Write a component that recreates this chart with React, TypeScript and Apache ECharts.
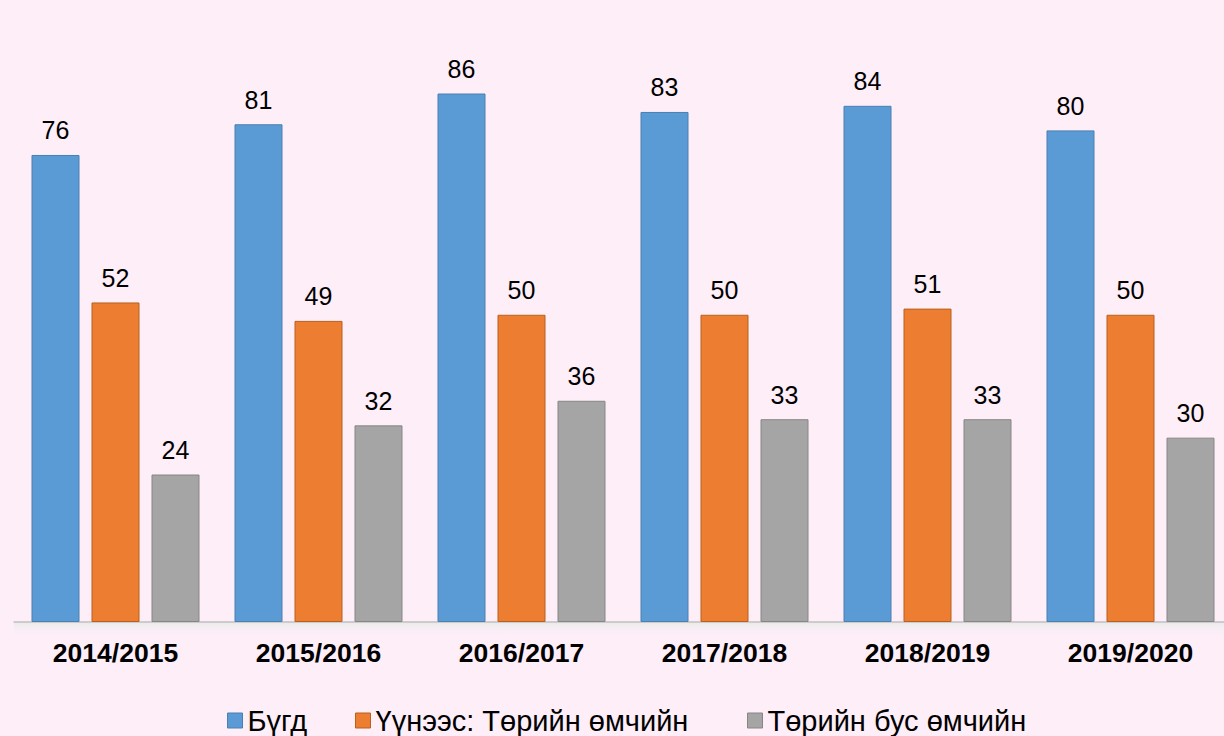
import React, { useEffect, useRef } from "react";
import * as echarts from "echarts";

const categories = ["2014/2015", "2015/2016", "2016/2017", "2017/2018", "2018/2019", "2019/2020"];
const seriesNames = ["Бүгд", "Үүнээс: Төрийн өмчийн", "Төрийн бус өмчийн"];
const totalValues = [76, 81, 86, 83, 84, 80];
const stateValues = [52, 49, 50, 50, 51, 50];
const nonStateValues = [24, 32, 36, 33, 33, 30];

const colors = ["#5B9BD5", "#ED7D31", "#A5A5A5"];
const borders = ["#4A7FB0", "#B8611F", "#868686"];
const legendLefts = [227, 355, 747];

const FONT = "Liberation Sans, Arial, sans-serif";

export default function App() {
  const ref = useRef<HTMLDivElement>(null);
  useEffect(() => {
    if (!ref.current) return;
    const chart = echarts.init(ref.current, null, { renderer: "svg" });
    const data = [totalValues, stateValues, nonStateValues];
    chart.setOption({
      animation: false,
      backgroundColor: "#FDEEF8",
      textStyle: { fontFamily: FONT },
      graphic: [
        {
          type: "rect",
          silent: true,
          z: -1,
          shape: { x: 14, y: 623, width: 1230, height: 13 },
          style: {
            fill: new echarts.graphic.LinearGradient(0, 0, 0, 1, [
              { offset: 0, color: "#ebebeb" },
              { offset: 1, color: "rgba(253,238,248,0)" },
            ]),
          },
        },
      ],
      grid: { left: 14, top: 7.5, width: 1218, height: 614.5, containLabel: false },
      legend: seriesNames.map((n, i) => ({
        left: legendLefts[i],
        top: 706,
        padding: 0,
        itemWidth: 15,
        itemHeight: 15,
        icon: "rect",
        selectedMode: false,
        textStyle: { fontSize: 29, color: "#000", fontFamily: FONT },
        data: [{ name: n, itemStyle: { color: colors[i], borderColor: borders[i], borderWidth: 1 } }],
      })),
      xAxis: {
        type: "category",
        data: categories,
        axisLine: { lineStyle: { color: "#BFBFBF", width: 1.5 } },
        axisTick: { show: false },
        axisLabel: { fontSize: 26.5, fontWeight: "bold", color: "#000", margin: 17 },
      },
      yAxis: {
        type: "value",
        min: 0,
        max: 100,
        show: false,
        splitLine: { show: false },
      },
      series: seriesNames.map((name, i) => ({
        name,
        type: "bar",
        data: data[i],
        barWidth: 48,
        barGap: "25%",
        itemStyle: { color: colors[i], borderColor: borders[i], borderWidth: 1 },
        label: {
          show: true,
          position: "top",
          distance: 12,
          fontSize: 25,
          color: "#000",
        },
      })),
    });
    return () => chart.dispose();
  }, []);
  return <div ref={ref} style={{ width: 1250, height: 736, position: "fixed", left: 0, top: 0 }} />;
}
